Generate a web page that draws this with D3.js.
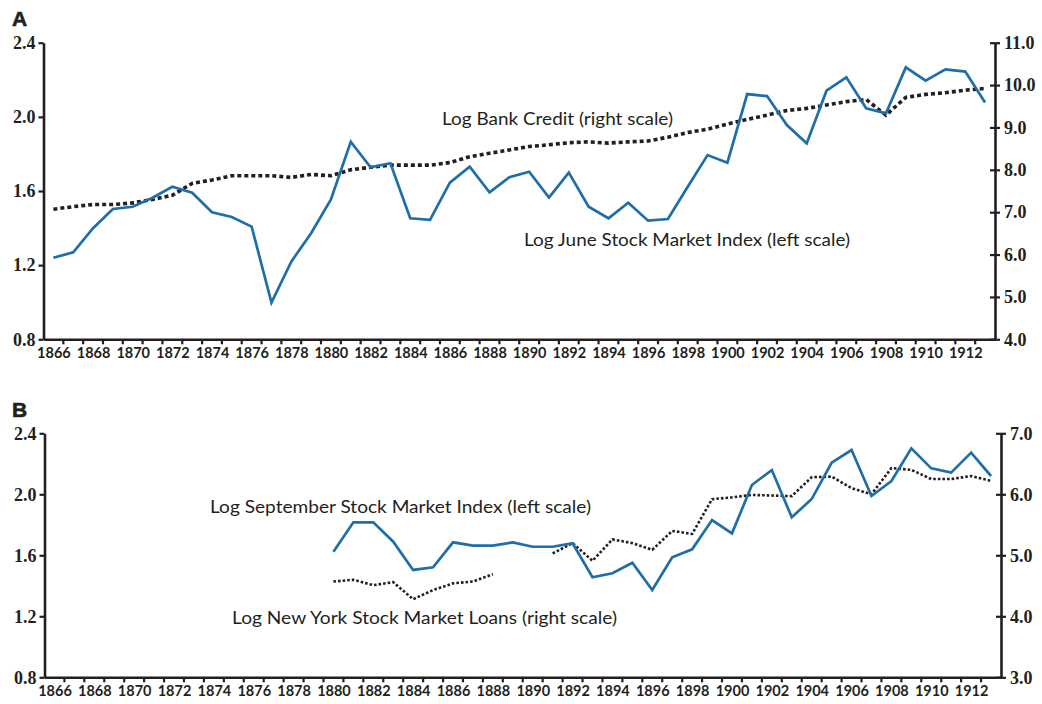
<!DOCTYPE html>
<html>
<head>
<meta charset="utf-8">
<script src="https://cdn.jsdelivr.net/npm/d3@7"></script>
<style>
  body { margin: 0; background: #fff; }
  svg { display: block; }
</style>
</head>
<body>
<div id="chart"></div>
<script>
// years shown on both panels
const years = [1866,1867,1868,1869,1870,1871,1872,1873,1874,1875,1876,1877,1878,1879,1880,
  1881,1882,1883,1884,1885,1886,1887,1888,1889,1890,1891,1892,1893,1894,1895,1896,1897,
  1898,1899,1900,1901,1902,1903,1904,1905,1906,1907,1908,1909,1910,1911,1912,1913];
const yearLabels = [1866,1868,1870,1872,1874,1876,1878,1880,1882,1884,1886,1888,1890,1892,
  1894,1896,1898,1900,1902,1904,1906,1908,1910,1912];

// panel A
const juneIndex = [1.240,1.269,1.399,1.503,1.515,1.564,1.623,1.591,1.485,1.460,1.408,0.998,
  1.219,1.372,1.555,1.866,1.728,1.750,1.453,1.444,1.645,1.731,1.593,1.674,1.704,1.564,1.699,
  1.515,1.453,1.537,1.440,1.449,1.623,1.794,1.753,2.123,2.112,1.956,1.857,2.141,2.213,2.046,
  2.019,2.267,2.195,2.256,2.244,2.077];
const bankCredit = [7.07,7.13,7.18,7.18,7.22,7.30,7.40,7.68,7.76,7.86,7.86,7.86,7.82,7.89,7.86,
  8.00,8.06,8.11,8.11,8.11,8.17,8.31,8.39,8.47,8.55,8.59,8.64,8.66,8.63,8.66,8.68,8.77,8.88,
  8.96,9.08,9.19,9.29,9.40,9.45,9.53,9.61,9.66,9.29,9.71,9.78,9.82,9.88,9.92];

// panel B (starts 1880, loans missing 1889-1890)
const yearsB = years.slice(14);
const sepIndex = [1.624,1.816,1.816,1.689,1.504,1.521,1.685,1.663,1.663,1.685,1.656,1.656,
  1.679,1.456,1.482,1.551,1.372,1.587,1.639,1.831,1.744,2.061,2.159,1.849,1.969,2.207,2.290,
  1.989,2.087,2.301,2.170,2.142,2.273,2.120];
const nyLoans = [4.57,4.60,4.51,4.56,4.28,4.43,4.54,4.57,4.69,null,null,5.03,5.20,4.91,5.26,
  5.20,5.09,5.40,5.35,5.92,5.95,5.99,5.98,5.97,6.28,6.29,6.10,6.00,6.43,6.40,6.25,6.25,6.30,6.22];

const leftTicks = [0.8,1.2,1.6,2.0,2.4];
const rightTicksA = [4,5,6,7,8,9,10,11];
const rightTicksB = [3,4,5,6,7];

const ink = "#231f20";
const blue = "#1f6ea6";

const svg = d3.select("#chart").append("svg")
  .attr("width", 1042)
  .attr("height", 704);

function drawPanel(p) {
  const g = svg.append("g");

  const x = d3.scaleLinear()
    .domain([years[0] - 0.5, years[years.length - 1] + 0.5])
    .range([p.left, p.right]);
  const yL = d3.scaleLinear().domain([0.8, 2.4]).range([p.bottom, p.top]);
  const yR = d3.scaleLinear().domain(p.rDomain).range([p.bottom, p.top]);

  // left axis
  const la = g.append("g")
    .attr("transform", `translate(${p.left},0)`)
    .call(d3.axisLeft(yL).tickValues(leftTicks).tickFormat(d3.format(".1f"))
      .tickSize(5).tickSizeOuter(0).tickPadding(3));
  // right axis, ticks cross the line
  const ra = g.append("g")
    .attr("transform", `translate(${p.right},0)`)
    .call(d3.axisRight(yR).tickValues(p.rTicks).tickFormat(d3.format(".1f"))
      .tickSize(5).tickSizeOuter(0).tickPadding(4));
  ra.selectAll(".tick line").attr("x1", -5);

  [la, ra].forEach(a => {
    a.select(".domain").attr("stroke", ink).attr("stroke-width", 2.6);
    a.selectAll(".tick line").attr("stroke", ink).attr("stroke-width", 2.2);
    a.selectAll(".tick text")
      .attr("fill", ink)
      .style("font-family", "'Liberation Serif', serif")
      .style("font-weight", "bold")
      .style("font-size", "18px");
  });

  // bottom axis: ticks at year boundaries, labels every 2 years
  const xa = g.append("g")
    .attr("transform", `translate(0,${p.bottom})`)
    .call(d3.axisBottom(x).tickValues(yearLabels).tickFormat(d3.format("d"))
      .tickSize(0).tickSizeOuter(0).tickPadding(8));
  xa.select(".domain").attr("stroke", ink).attr("stroke-width", 2.6);
  xa.selectAll(".tick text")
    .attr("fill", ink)
    .style("font-family", "Lato, sans-serif")
    .style("font-weight", "bold")
    .style("font-size", "14.5px");
  xa.selectAll(".yeartick")
    .data(years.slice(0, -1))
    .enter()
    .append("line")
    .attr("class", "yeartick")
    .attr("x1", d => x(d + 0.5))
    .attr("x2", d => x(d + 0.5))
    .attr("y1", 0)
    .attr("y2", 5)
    .attr("stroke", ink)
    .attr("stroke-width", 2.2);

  // lines
  const lineL = d3.line()
    .defined(d => d[1] != null)
    .x(d => x(d[0]))
    .y(d => yL(d[1]));
  const lineR = d3.line()
    .defined(d => d[1] != null)
    .x(d => x(d[0]))
    .y(d => yR(d[1]));

  g.append("path")
    .datum(p.rYears.map((yr, i) => [yr, p.rValues[i]]))
    .attr("d", lineR)
    .attr("fill", "none")
    .attr("stroke", ink)
    .attr("stroke-width", p.dotWidth)
    .attr("stroke-dasharray", p.dash);

  g.append("path")
    .datum(p.lYears.map((yr, i) => [yr, p.lValues[i]]))
    .attr("d", lineL)
    .attr("fill", "none")
    .attr("stroke", blue)
    .attr("stroke-width", 2.7)
    .attr("stroke-linejoin", "miter");

  // panel letter
  g.append("text")
    .attr("x", 12)
    .attr("y", p.letterY)
    .text(p.letter)
    .attr("fill", ink)
    .style("font-family", "'Liberation Sans', sans-serif")
    .style("font-weight", "900")
    .style("font-size", "21px")
    .attr("stroke", ink)
    .attr("stroke-width", 0.6);

  // annotations, stretched to the width they have in the original
  p.notes.forEach(n => {
    g.append("text")
      .attr("x", n.x)
      .attr("y", n.y)
      .attr("textLength", n.w)
      .attr("lengthAdjust", "spacingAndGlyphs")
      .text(n.text)
      .attr("fill", ink)
      .style("font-family", "Lato, sans-serif")
      .style("font-size", "17px");
  });
}

drawPanel({
  letter: "A", letterY: 26,
  left: 43.5, right: 995, top: 42.7, bottom: 339.3,
  rDomain: [4, 11], rTicks: rightTicksA,
  lYears: years, lValues: juneIndex,
  rYears: years, rValues: bankCredit,
  dotWidth: 3.6, dash: "4,3",
  notes: [
    {x: 442, y: 125, w: 231, text: "Log Bank Credit (right scale)"},
    {x: 524, y: 246, w: 326, text: "Log June Stock Market Index (left scale)"}
  ]
});

drawPanel({
  letter: "B", letterY: 416.7,
  left: 44.5, right: 1001, top: 433.3, bottom: 677.3,
  rDomain: [3, 7], rTicks: rightTicksB,
  lYears: yearsB, lValues: sepIndex,
  rYears: yearsB, rValues: nyLoans,
  dotWidth: 2.6, dash: "2.6,2",
  notes: [
    {x: 210, y: 513, w: 381, text: "Log September Stock Market Index (left scale)"},
    {x: 232, y: 624, w: 385, text: "Log New York Stock Market Loans (right scale)"}
  ]
});
</script>
</body>
</html>
